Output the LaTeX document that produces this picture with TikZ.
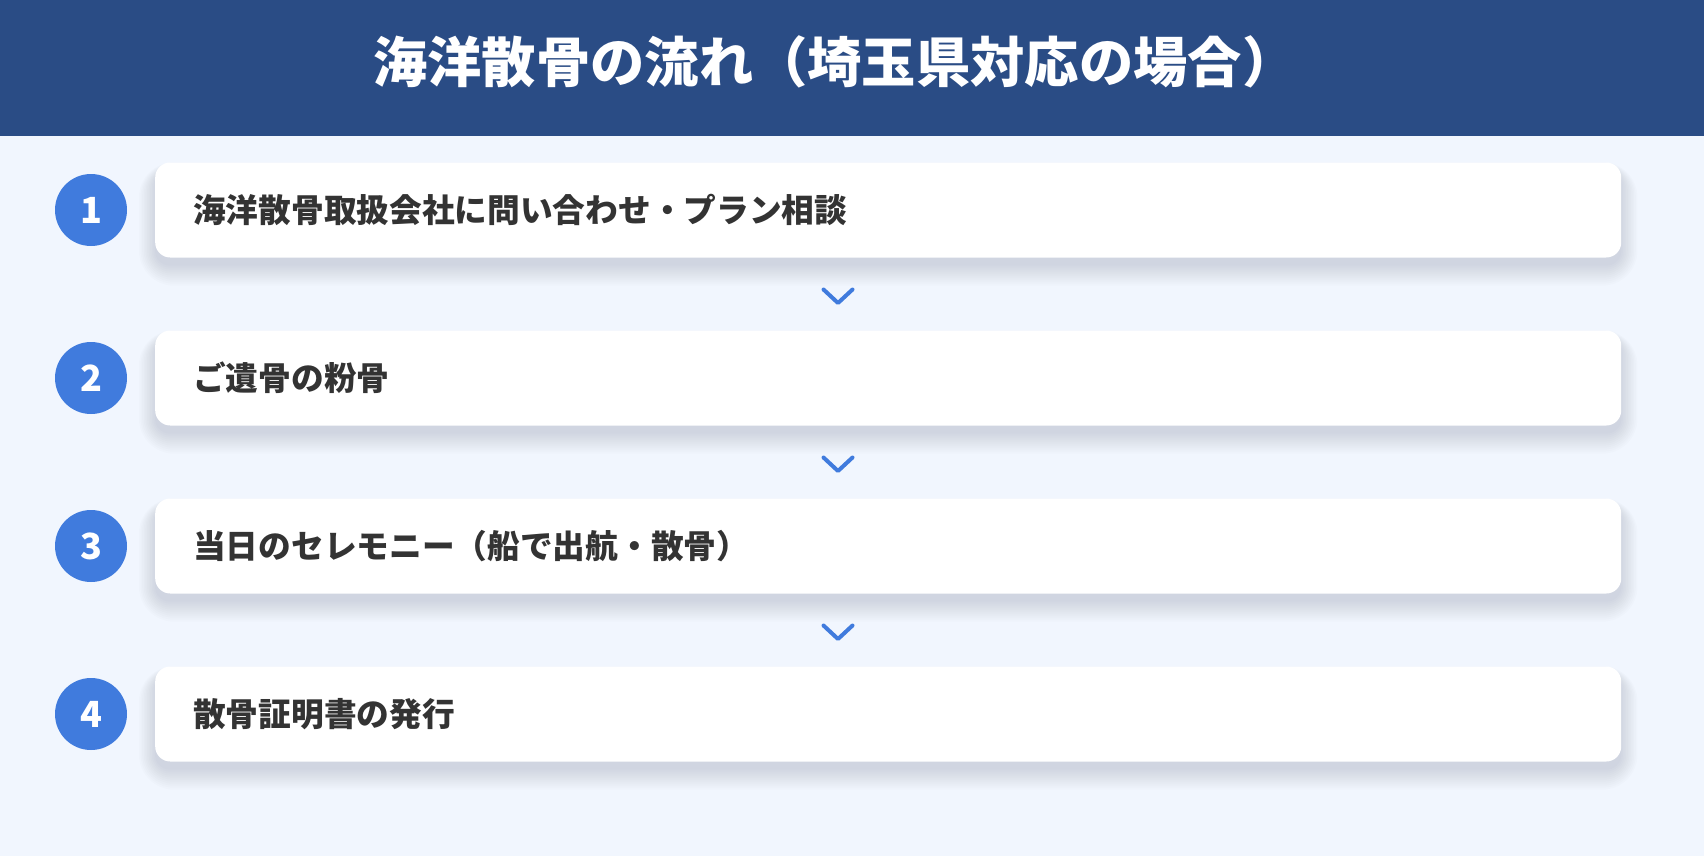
\documentclass[tikz,border=0pt]{standalone}
\usepackage{fontspec}
\setmainfont{Noto Sans CJK JP}
\usetikzlibrary{calc}
\definecolor{hdr}{HTML}{2A4C85}
\definecolor{bgc}{HTML}{F1F6FE}
\definecolor{accent}{HTML}{407BDD}
\definecolor{txt}{HTML}{333333}
\definecolor{shd}{HTML}{1E2A40}
\pgfdeclarelayer{bglayer}
\pgfdeclarelayer{shadowlayer}
\pgfsetlayers{bglayer,shadowlayer,main}
\tikzset{
  stepbox/.style={rectangle, fill=white, rounded corners=15pt, anchor=west,
    minimum height=95pt, text width=1390pt, inner xsep=38pt, inner ysep=0pt, align=left,
    text=txt, font=\fontsize{32.7}{38}\selectfont\bfseries},
  numdot/.style={circle, fill=accent, minimum size=72pt, inner sep=0pt, text=white,
    font=\fontsize{36}{40}\selectfont\bfseries},
  chev/.style={draw=accent, line width=4pt, line cap=round, line join=round},
  titletext/.style={text=white, font=\fontsize{54.3}{60}\selectfont\bfseries, anchor=west, inner sep=0pt},
  shadowlayerstyle/.style={fill=shd, fill opacity=0.01}
}
\begin{document}
\begin{tikzpicture}[x=1pt,y=-1pt]
\useasboundingbox (0,0) rectangle (1704,856);
\begin{pgfonlayer}{bglayer}
\fill[bgc] (0,0) rectangle (1704,856);
\fill[hdr] (0,0) rectangle (1704,136);
\end{pgfonlayer}
\node[titletext] (title) at (373,62) {海洋散骨の流れ（埼玉県対応の場合）};

\node[stepbox] (b1) at (155,210) {海洋散骨取扱会社に問い合わせ・プラン相談};
\node[stepbox] (b2) at (155,378) {ご遺骨の粉骨};
\node[stepbox] (b3) at (155,546) {当日のセレモニー（船で出航・散骨）};
\node[stepbox] (b4) at (155,714) {散骨証明書の発行};

\begin{pgfonlayer}{shadowlayer}
\foreach \b in {b1,b2,b3,b4}{
  \foreach \i in {0,2,...,20}{
    \fill[shadowlayerstyle, rounded corners={15pt+\i pt}]
      ($(\b.north west)+(-\i*0.8,-\i*0.4+8)$) rectangle ($(\b.south east)+(\i*0.8,\i+8)$);
  }
}
\end{pgfonlayer}

\node[numdot] (n1) at (91,210) {1};
\node[numdot] (n2) at (91,378) {2};
\node[numdot] (n3) at (91,546) {3};
\node[numdot] (n4) at (91,714) {4};

\foreach \y/\k in {296/1,464/2,632/3}{
  \coordinate (c\k) at (838,\y);
  \draw[chev] ($(c\k)+(-14.5,-6.5)$) -- ($(c\k)+(0,7)$) -- ($(c\k)+(14.5,-6.5)$);
}
\end{tikzpicture}
\end{document}
